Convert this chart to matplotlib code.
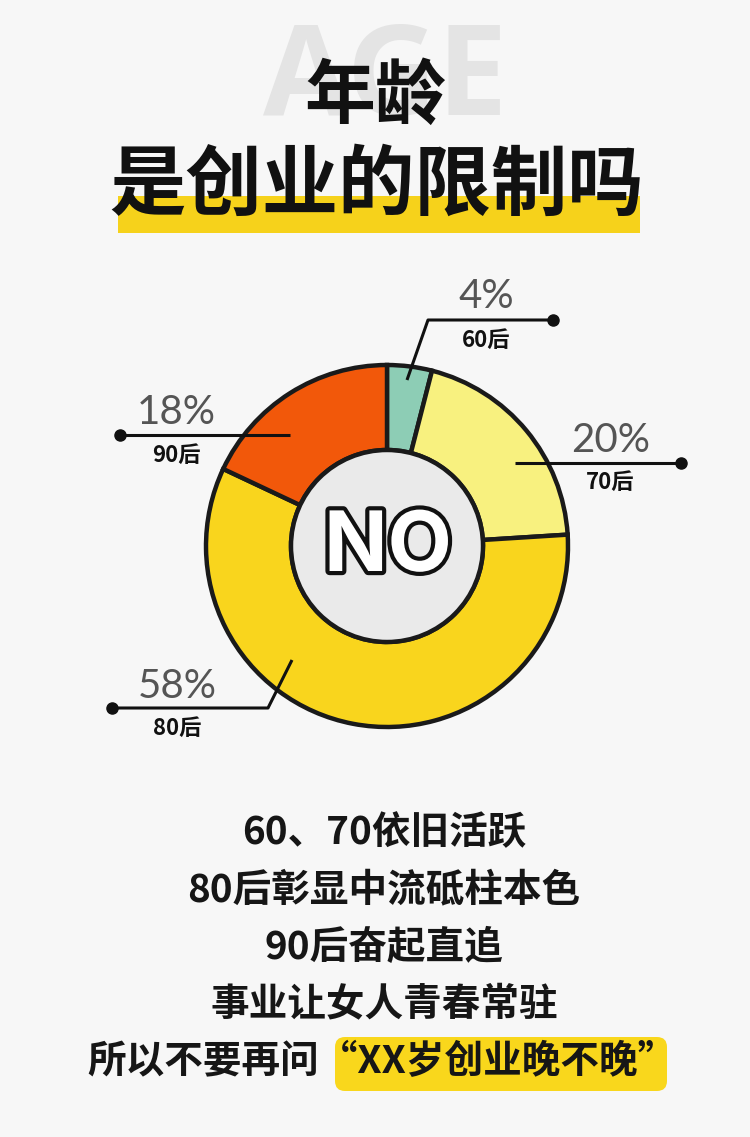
import matplotlib
matplotlib.use("Agg")
import matplotlib.pyplot as plt
from matplotlib.patches import Circle, Rectangle, FancyBboxPatch
import matplotlib.patheffects as pe

plt.rcParams['font.family'] = ['Noto Sans CJK SC', 'DejaVu Sans']

# ---- data ----
categories = ['60后', '70后', '80后', '90后']
values = [4, 20, 58, 18]
pct_labels = ['4%', '20%', '58%', '18%']
colors = ['#8DCDB5', '#F8F17F', '#F9D51D', '#F2580A']

title_bg = 'AGE'
title_line1 = '年龄'
title_line2 = '是创业的限制吗'
body_lines = ['60、70依旧活跃', '80后彰显中流砥柱本色', '90后奋起直追',
              '事业让女人青春常驻', '所以不要再问“XX岁创业晚不晚”']

W, H = 750, 1137
fig = plt.figure(figsize=(W / 100, H / 100), dpi=100)
fig.patch.set_facecolor('#F7F7F7')
ax = fig.add_axes([0, 0, 1, 1])


def Y(y):
    return H - y


# ---- donut ----
cx, cy, R, r_in = 387, 546, 181, 96
wedges, _ = ax.pie(values, colors=colors, startangle=90, counterclock=False,
                   center=(cx, Y(cy)), radius=R, frame=True,
                   wedgeprops=dict(width=R - r_in, edgecolor='#1A1A1A', linewidth=3.2))
ax.set_xlim(0, W)
ax.set_ylim(0, H)
ax.set_aspect('equal')
ax.axis('off')
for w in wedges:
    w.set_zorder(4)
ax.add_patch(Circle((cx, Y(cy)), r_in, facecolor='#EAEAEA', edgecolor='#1A1A1A',
                    linewidth=3.2, zorder=5))
ax.text(cx + 1, Y(cy) - 3, 'NO', ha='center', va='center', fontsize=60,
        fontweight='bold', family=['Inter', 'DejaVu Sans'], color='white', zorder=6,
        path_effects=[pe.withStroke(linewidth=6, foreground='#111111')])

# ---- title ----
ax.text(385, Y(82), title_bg, ha='center', va='center', fontsize=90,
        fontweight='bold', family=['Open Sans', 'DejaVu Sans'], color='#E4E4E4', zorder=1)
ax.text(375, Y(97), title_line1, ha='center', va='center', fontsize=51,
        fontweight='heavy', color='#111111', zorder=3)
ax.add_patch(Rectangle((118, Y(233)), 522, 37, facecolor='#F6D21B', edgecolor='none', zorder=2))
ax.text(377, Y(186), title_line2, ha='center', va='center', fontsize=55,
        fontweight='heavy', color='#111111', zorder=3)

# ---- annotations ----
ann = {
    # category: (line path points, dot point, pct text pos, label pos)
    '60后': ([(407, 380), (428, 320), (553, 320)], (553, 320), (486, 297), (486, 340)),
    '70后': ([(515, 463), (681, 463)], (681, 463), (611, 441), (610, 482)),
    '80后': ([(292, 660), (268, 708), (112, 708)], (112, 708), (177, 686), (177, 728)),
    '90后': ([(290, 435), (120, 435)], (120, 435), (176, 413), (176, 455)),
}
for cat, pct in zip(categories, pct_labels):
    pts, dot, ptxt, ltxt = ann[cat]
    xs = [p[0] for p in pts]
    ys = [Y(p[1]) for p in pts]
    ax.plot(xs, ys, color='#111111', lw=2.2, zorder=7, solid_capstyle='butt')
    ax.plot([dot[0]], [Y(dot[1])], 'o', color='#111111', ms=8, zorder=7)
    ax.text(ptxt[0], Y(ptxt[1]), pct, ha='center', va='center', fontsize=29,
            fontweight='normal', family=['Lato', 'DejaVu Sans'], color='#555555', zorder=7)
    ax.text(ltxt[0], Y(ltxt[1]), cat, ha='center', va='center', fontsize=16,
            fontweight='bold', color='#111111', zorder=7)

# ---- body text ----
ax.add_patch(FancyBboxPatch((338, Y(1088)), 326, 48,
                            boxstyle='round,pad=3,rounding_size=10',
                            facecolor='#F9D71C', edgecolor='none', zorder=2))
body_y = [833, 890, 948, 1005, 1062]
body_x = [384, 384, 384, 384, 382]
for txt, xx, yy in zip(body_lines, body_x, body_y):
    ax.text(xx, Y(yy), txt, ha='center', va='center', fontsize=27.8,
            fontweight='bold', color='#161616', zorder=3)

fig.savefig('out.png', dpi=100, facecolor=fig.get_facecolor())
